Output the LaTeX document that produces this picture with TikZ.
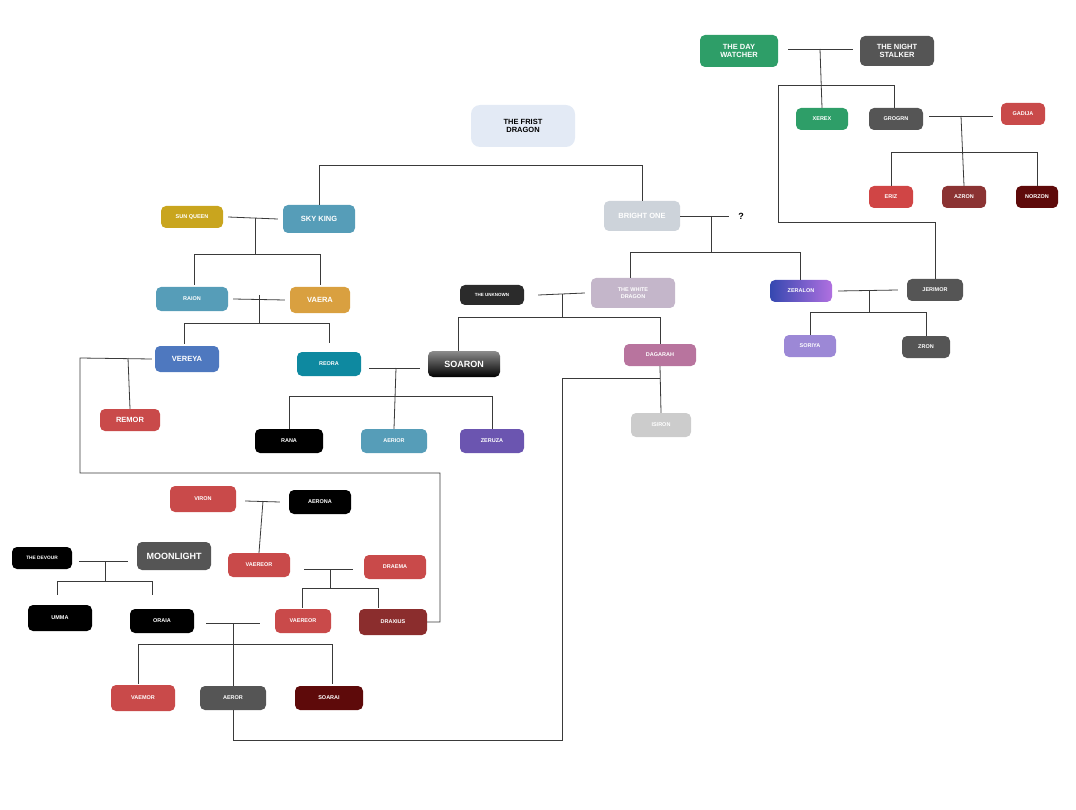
\documentclass[tikz,border=0pt]{standalone}
\usepackage{fontspec}
\setmainfont{Liberation Sans}
\usepackage{tikz}
\usetikzlibrary{calc}
\definecolor{skyblue}{HTML}{569DB8}
\definecolor{redish}{HTML}{C94A4A}
\definecolor{darkgray}{HTML}{555555}
\definecolor{dragongreen}{HTML}{2E9E68}
\definecolor{wine}{HTML}{8B3333}
\definecolor{maroon}{HTML}{5E0A0A}
\definecolor{linegray}{HTML}{3A3A3A}
\definecolor{paleblue}{HTML}{E3EAF5}

\tikzset{
  dragon/.style={rounded corners=5pt, text=white, font=\bfseries\fontsize{7.5}{8.5}\selectfont,
                 inner sep=1pt, align=center, minimum height=22pt},
  small/.style={font=\bfseries\fontsize{5.5}{6.5}\selectfont},
  big/.style={font=\bfseries\fontsize{9}{10}\selectfont},
  link/.style={linegray, line width=0.8pt}
}

\begin{document}
\begin{tikzpicture}[x=1pt,y=-1pt]
\useasboundingbox (0,0) rectangle (1076,810);
% the top of the tree
\node[dragon, fill=paleblue, text=black, minimum width=104pt, minimum height=42pt, rounded corners=9pt] (first) at (523,126) {THE FRIST\\DRAGON};
\node[dragon, fill=skyblue, minimum width=72pt, minimum height=28pt] (skyk) at (319,219) {SKY KING};
\node[dragon, small, fill={rgb,255:red,201;green,165;blue,30}, minimum width=62pt] (sunq) at (192,217) {SUN QUEEN};
\node[dragon, fill={rgb,255:red,205;green,211;blue,218}, minimum width=76pt, minimum height=30pt] (bright) at (642,216) {BRIGHT ONE};
\node[font=\bfseries\fontsize{9}{10}\selectfont] (unk2) at (741,216) {?};
% the north
\node[dragon, fill=dragongreen, minimum width=78pt, minimum height=32pt] (dayw) at (739,51) {THE DAY\\WATCHER};
\node[dragon, fill=darkgray, minimum width=74pt, minimum height=30pt] (night) at (897,51) {THE NIGHT\\STALKER};
\node[dragon, small, fill=dragongreen, minimum width=52pt] (xerex) at (822,119) {XEREX};
\node[dragon, small, fill=darkgray, minimum width=54pt] (grogrn) at (896,119) {GROGRN};
\node[dragon, small, fill=redish, minimum width=44pt] (gadija) at (1023,114) {GADIJA};
\node[dragon, small, fill={rgb,255:red,208;green,69;blue,69}, minimum width=44pt] (eriz) at (891,197) {ERIZ};
\node[dragon, small, fill=wine, minimum width=44pt] (azron) at (964,197) {AZRON};
\node[dragon, small, fill=maroon, minimum width=42pt] (norzon) at (1037,197) {NORZON};
% sky king line
\node[dragon, small, fill=skyblue, minimum width=72pt, minimum height=24pt] (raion) at (192,299) {RAION};
\node[dragon, fill={rgb,255:red,217;green,160;blue,64}, minimum width=60pt, minimum height=26pt] (vaera) at (320,300) {VAERA};
\node[dragon, fill={rgb,255:red,78;green,120;blue,191}, minimum width=64pt, minimum height=26pt] (vereya) at (187,359) {VEREYA};
\node[dragon, small, fill={rgb,255:red,14;green,137;blue,160}, minimum width=64pt, minimum height=24pt] (reora) at (329,364) {REORA};
\node[dragon, big, top color=gray!90, bottom color=black, minimum width=72pt, minimum height=26pt] (soaron) at (464,364) {SOARON};
\node[dragon, fill=redish, minimum width=60pt] (remor) at (130,420) {REMOR};
\node[dragon, small, fill=black, minimum width=68pt, minimum height=24pt] (rana) at (289,441) {RANA};
\node[dragon, small, fill=skyblue, minimum width=66pt, minimum height=24pt] (aerior) at (394,441) {AERIOR};
\node[dragon, small, fill={rgb,255:red,107;green,85;blue,176}, minimum width=64pt, minimum height=24pt] (zeruza) at (492,441) {ZERUZA};
% bright one line
\node[dragon, font=\bfseries\fontsize{4.5}{5.5}\selectfont, fill={rgb,255:red,43;green,43;blue,43}, minimum width=64pt, minimum height=20pt] (unknown) at (492,295) {THE UNKNOWN};
\node[dragon, small, fill={rgb,255:red,196;green,182;blue,202}, minimum width=84pt, minimum height=30pt] (whited) at (633,293) {THE WHITE\\DRAGON};
\node[dragon, small, left color={rgb,255:red,53;green,72;blue,176}, right color={rgb,255:red,176;green,112;blue,224}, minimum width=62pt] (zeralon) at (801,291) {ZERALON};
\node[dragon, small, fill=darkgray, minimum width=56pt] (jerimor) at (935,290) {JERIMOR};
\node[dragon, small, fill={rgb,255:red,156;green,136;blue,214}, minimum width=52pt] (soriya) at (810,346) {SORIYA};
\node[dragon, small, fill=darkgray, minimum width=48pt] (zron) at (926,347) {ZRON};
\node[dragon, small, fill={rgb,255:red,184;green,116;blue,158}, minimum width=72pt] (dagarah) at (660,355) {DAGARAH};
\node[dragon, small, fill={rgb,255:red,204;green,204;blue,204}, minimum width=60pt, minimum height=24pt] (isiron) at (661,425) {ISIRON};
% the south
\node[dragon, small, fill=redish, minimum width=66pt, minimum height=26pt] (viron) at (203,499) {VIRON};
\node[dragon, small, fill=black, minimum width=62pt, minimum height=24pt] (aerona) at (320,502) {AERONA};
\node[dragon, font=\bfseries\fontsize{4.8}{5.5}\selectfont, fill=black, minimum width=60pt] (devour) at (42,558) {THE DEVOUR};
\node[dragon, big, fill=darkgray, minimum width=74pt, minimum height=28pt] (moonl) at (174,556) {MOONLIGHT};
\node[dragon, small, fill=redish, minimum width=62pt, minimum height=24pt] (vaereora) at (259,565) {VAEREOR};
\node[dragon, small, fill=redish, minimum width=62pt, minimum height=24pt] (draema) at (395,567) {DRAEMA};
\node[dragon, small, fill=black, minimum width=64pt, minimum height=26pt] (umma) at (60,618) {UMMA};
\node[dragon, small, fill=black, minimum width=64pt, minimum height=24pt] (oraia) at (162,621) {ORAIA};
\node[dragon, small, fill=redish, minimum width=56pt, minimum height=24pt] (vaereorb) at (303,621) {VAEREOR};
\node[dragon, small, fill={rgb,255:red,139;green,45;blue,45}, minimum width=68pt, minimum height=26pt] (draxius) at (393,622) {DRAXIUS};
\node[dragon, small, fill=redish, minimum width=64pt, minimum height=26pt] (vaemor) at (143,698) {VAEMOR};
\node[dragon, small, fill=darkgray, minimum width=66pt, minimum height=24pt] (aeror) at (233,698) {AEROR};
\node[dragon, small, fill=maroon, minimum width=68pt, minimum height=24pt] (soarai) at (329,698) {SOARAI};

% junction points
\coordinate (jsky) at (255,218);
\coordinate (jraion) at (259,295);
\coordinate (jreora) at (396,368);
\coordinate (jwhite) at (562,294);
\coordinate (jbright) at (711,216);
\coordinate (jzera) at (869,290);
\coordinate (jday) at (820,49);
\coordinate (jgrog) at (961,116);
\coordinate (jviron) at (263,501);
\coordinate (jmoon) at (105,561);
\coordinate (jvaer) at (330,569);
\coordinate (joraia) at (233,623);
\coordinate (jvere) at (128,358);
\coordinate (jdag) at (660,378);

% connectors
\draw[link] (skyk.north) -- ++(0,-39) -| (bright.north);
\draw[link] ($(sunq.east)+(5,0)$) -- ($(skyk.west)-(5,0)$);
\draw[link] (jsky) -- (255,254) -| (194,285); \draw[link] (255,254) -| (320,285);
\draw[link] ($(raion.east)+(5,0)$) -- ($(vaera.west)-(5,0)$);
\draw[link] (jraion) -- (259,323) -| (184,344); \draw[link] (259,323) -| (329,343);
\draw[link] ($(reora.east)+(8,4)$) -- ($(soaron.west)+(-8,4)$);
\draw[link] (jreora) -- (aerior.north); \draw[link] (396,396) -| (rana.north); \draw[link] (396,396) -| (zeruza.north);
\draw[link] ($(vereya.west)-(3,0)$) -- (80,358) -- (80,473) -- (440,473) |- (draxius.east);
\draw[link] (jvere) -- (remor.north);
\draw[link] ($(unknown.east)+(14,0)$) -- ($(whited.west)-(6,0)$);
\draw[link] (jwhite) -- (562,317) -| (458,351); \draw[link] (562,317) -| (dagarah.north);
\draw[link] (dagarah.south) -- (isiron.north);
\draw[link] (jdag) -- (562,378) -- (562,740) -| (aeror.south);
\draw[link] (bright.east) -- ($(unk2.west)-(6,0)$);
\draw[link] (jbright) -- (711,252) -| (630,278); \draw[link] (711,252) -| (800,280);
\draw[link] ($(zeralon.east)+(6,0)$) -- ($(jerimor.west)-(9,0)$);
\draw[link] (jzera) -- (869,312) -| (soriya.north); \draw[link] (869,312) -| (zron.north);
\draw[link] ($(dayw.east)+(10,-2)$) -- ($(night.west)+(-7,-2)$);
\draw[link] (jday) -- (xerex.north);
\draw[link] (778,85) -| (894,108);
\draw[link] (778,85) -- (778,222) -| (jerimor.north);
\draw[link] ($(grogrn.east)+(6,-3)$) -- ($(gadija.west)+(-8,2)$);
\draw[link] (jgrog) -- (azron.north); \draw[link] (961,152) -| (eriz.north); \draw[link] (961,152) -| (norzon.north);
\draw[link] ($(viron.east)+(9,2)$) -- ($(aerona.west)-(9,0)$);
\draw[link] (jviron) -- (vaereora.north);
\draw[link] ($(devour.east)+(7,3)$) -- ($(moonl.west)+(-9,5)$);
\draw[link] (jmoon) -- (105,581) -| (57,595); \draw[link] (105,581) -| (152,595);
\draw[link] ($(vaereora.east)+(14,4)$) -- ($(draema.west)+(-11,2)$);
\draw[link] (jvaer) -- (330,588) -| (302,608); \draw[link] (330,588) -| (378,608);
\draw[link] ($(oraia.east)+(12,2)$) -- ($(vaereorb.west)-(15,-2)$);
\draw[link] (joraia) -- (aeror.north); \draw[link] (233,644) -| (138,684); \draw[link] (233,644) -| (332,684);
\end{tikzpicture}
\end{document}
